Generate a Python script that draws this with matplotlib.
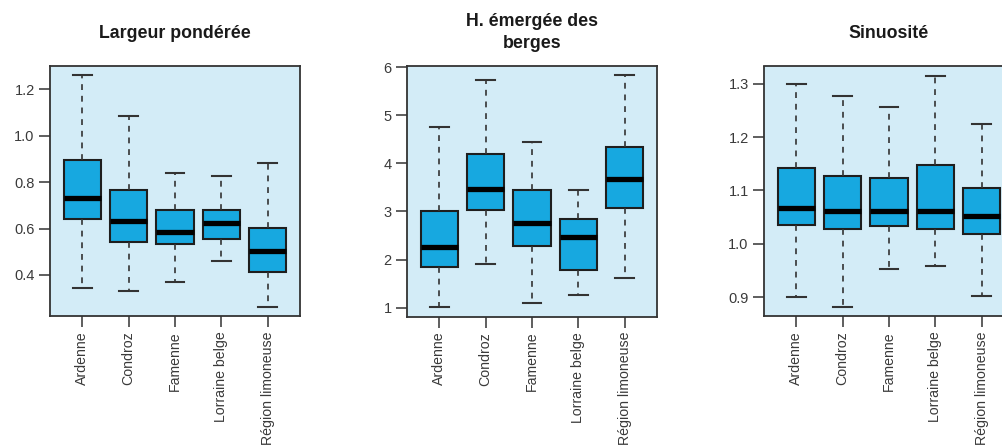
import matplotlib
matplotlib.use("Agg")
import matplotlib.pyplot as plt

plt.rcParams['font.family'] = ['Liberation Sans', 'DejaVu Sans']

regions = ["Ardenne", "Condroz", "Famenne", "Lorraine belge", "Région limoneuse"]

# five-number summaries per region: lower whisker, Q1, median, Q3, upper whisker
largeur_low = [0.343, 0.332, 0.371, 0.461, 0.263]
largeur_q1 = [0.641, 0.541, 0.533, 0.556, 0.412]
largeur_med = [0.730, 0.634, 0.587, 0.624, 0.505]
largeur_q3 = [0.894, 0.765, 0.678, 0.678, 0.603]
largeur_high = [1.261, 1.085, 0.840, 0.826, 0.883]

berges_low = [1.01, 1.90, 1.10, 1.26, 1.61]
berges_q1 = [1.84, 3.03, 2.29, 1.79, 3.08]
berges_med = [2.26, 3.47, 2.76, 2.46, 3.68]
berges_q3 = [3.01, 4.20, 3.44, 2.85, 4.34]
berges_high = [4.745, 5.73, 4.44, 3.45, 5.83]

sinu_low = [0.900, 0.882, 0.952, 0.958, 0.903]
sinu_q1 = [1.035, 1.027, 1.033, 1.027, 1.019]
sinu_med = [1.067, 1.062, 1.062, 1.062, 1.052]
sinu_q3 = [1.142, 1.128, 1.124, 1.147, 1.104]
sinu_high = [1.300, 1.277, 1.257, 1.315, 1.224]

titles = ["Largeur pondérée", "H. émergée des\nberges", "Sinuosité"]
yticks = [[0.4, 0.6, 0.8, 1.0, 1.2], [1, 2, 3, 4, 5, 6], [0.9, 1.0, 1.1, 1.2, 1.3]]
yticklabels = [["0.4", "0.6", "0.8", "1.0", "1.2"],
               ["1", "2", "3", "4", "5", "6"],
               ["0.9", "1.0", "1.1", "1.2", "1.3"]]

panels = [
    (largeur_low, largeur_q1, largeur_med, largeur_q3, largeur_high),
    (berges_low, berges_q1, berges_med, berges_q3, berges_high),
    (sinu_low, sinu_q1, sinu_med, sinu_q3, sinu_high),
]

W, H = 1003, 448
fig = plt.figure(figsize=(W / 100, H / 100), dpi=100)
fig.patch.set_facecolor("white")

# axes rectangles in pixels: left, top, right, bottom
rects = [(50, 66, 300, 316), (407, 66, 657, 316.5), (764, 66.5, 1014, 316)]
# vertical centre of each title, in pixels from the top
title_y = [33, 32.5, 33]

BG = "#d3ecf7"
FILL = "#17a8e0"
EDGE = "#1e1e1e"
TXT = "#3a3a3a"

for k, ((lo, q1, med, q3, hi), (l, t, r, b)) in enumerate(zip(panels, rects)):
    ax = fig.add_axes([l / W, 1 - b / H, (r - l) / W, (b - t) / H])
    ax.set_facecolor(BG)
    stats = [dict(whislo=a, q1=c, med=d, q3=e, whishi=f, fliers=[], label=n)
             for a, c, d, e, f, n in zip(lo, q1, med, q3, hi, regions)]
    ax.bxp(stats, positions=range(1, 6), widths=0.8, patch_artist=True,
           showfliers=False,
           boxprops=dict(facecolor=FILL, edgecolor=EDGE, linewidth=1.5),
           medianprops=dict(color="black", linewidth=3.8, solid_capstyle="butt"),
           whiskerprops=dict(color="#333333", linewidth=1.2, linestyle=(0, (3.5, 3.5))),
           capprops=dict(color="#333333", linewidth=1.5),
           capwidths=0.4)
    vmin = min(lo)
    vmax = max(hi)
    pad = (vmax - vmin) * 0.04
    ax.set_ylim(vmin - pad, vmax + pad)
    ax.set_xlim(0.3, 5.7)
    ax.set_yticks(yticks[k])
    ax.set_yticklabels(yticklabels[k], fontsize=10.5, color=TXT)
    ax.set_xticks(range(1, 6))
    ax.set_xticklabels(regions, rotation=90, fontsize=10.2, color=TXT)
    ax.tick_params(axis="both", length=8, width=1.1, color="#333333", pad=3)
    for s in ax.spines.values():
        s.set_color("#333333")
        s.set_linewidth(1.3)
    fig.text((l + r) / 2 / W, 1 - title_y[k] / H, titles[k], ha="center",
             va="center", fontsize=12.8, fontweight="bold", color="#1a1a1a",
             linespacing=1.35)

fig.savefig("out.png", dpi=100, facecolor="white")
